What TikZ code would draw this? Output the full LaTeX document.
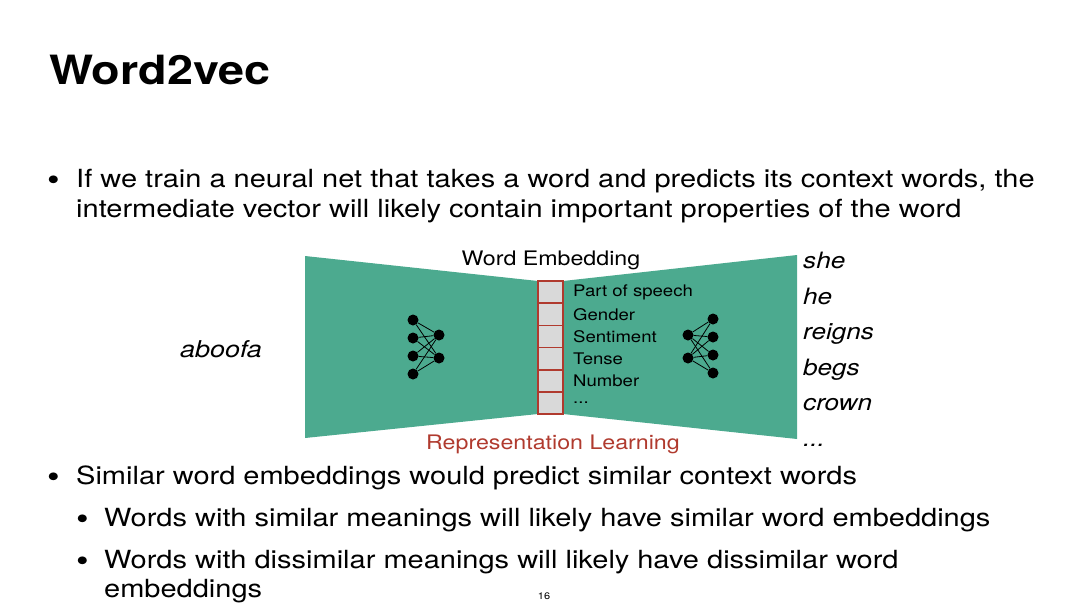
\documentclass[tikz,border=0pt]{standalone}
\usepackage{fontspec}
\setmainfont[FakeStretch=1.16]{TeX Gyre Heros}
\usetikzlibrary{positioning}
\definecolor{Teal}{HTML}{4CAA8F}
\definecolor{Brick}{HTML}{B03A2E}
\definecolor{Cell}{HTML}{D9D9D9}

\begin{document}
\begin{tikzpicture}[x=1pt,y=-1pt,
    body/.style={anchor=base west,inner sep=0pt,font=\fontsize{25}{30}\selectfont},
    dot/.style={anchor=base west,inner sep=0pt,font=\fontsize{31}{30}\selectfont},
    word/.style={anchor=base west,inner sep=0pt,font=\fontsize{22.5}{28}\selectfont\itshape},
    cell/.style={draw=Brick,fill=Cell,line width=1.7pt,minimum width=25pt,
      minimum height=22.2pt,inner sep=0pt,outer sep=0pt},
    feat/.style={font=\fontsize{16}{20}\selectfont,inner sep=0pt,anchor=west},
    unit/.style={circle,fill=black,minimum size=11pt,inner sep=0pt},
    wire/.style={line width=0.8pt}
]
\useasboundingbox (0,0) rectangle (1086,608);
% title and text
\node[anchor=base west,inner sep=0pt,font=\fontsize{40.3}{48}\selectfont\bfseries] (title) at (49,84) {Word2vec};
\node[dot] (b1) at (47,190) {•};
\node[body] (t1) at (76,187) {If we train a neural net that takes a word and predicts its context words, the};
\node[body] (t2) at (76,217) {intermediate vector will likely contain important properties of the word};
\node[dot] (b2) at (47,487) {•};
\node[body] (t3) at (76,484) {Similar word embeddings would predict similar context words};
\node[dot] (b3) at (76,529) {•};
\node[body] (t4) at (104,526) {Words with similar meanings will likely have similar word embeddings};
\node[dot] (b4) at (76,571) {•};
\node[body] (t5) at (104,568) {Words with dissimilar meanings will likely have dissimilar word};
\node[body] (t6) at (104,597) {embeddings};
\node[anchor=base,inner sep=0pt,font=\fontsize{9.5}{12}\selectfont] (page) at (544,599) {16};

% encoder / decoder
\fill[Teal] (305,256) -- (538,281) -- (538,414) -- (305,438) -- cycle;
\fill[Teal] (563,281) -- (797,255) -- (797,439) -- (563,414) -- cycle;

% embedding vector
\node[cell] (c1) at (550.5,292.1) {};
\node[cell,below=0pt of c1] (c2) {};
\node[cell,below=0pt of c2] (c3) {};
\node[cell,below=0pt of c3] (c4) {};
\node[cell,below=0pt of c4] (c5) {};
\node[cell,below=0pt of c5] (c6) {};
\node[feat,right=10pt of c1] (f1) {Part of speech};
\node[feat,right=10pt of c2] (f2) {Gender};
\node[feat,right=10pt of c3] (f3) {Sentiment};
\node[feat,right=10pt of c4] (f4) {Tense};
\node[feat,right=10pt of c5] (f5) {Number};
\node[feat,right=10pt of c6] (f6) {...};
\node[anchor=base,inner sep=0pt,font=\fontsize{20}{24}\selectfont] (embed) at (551,265) {Word Embedding};
\node[anchor=base,inner sep=0pt,text=Brick,font=\fontsize{20}{24}\selectfont] (replearn) at (553,449) {Representation Learning};

% small nets
\foreach \i/\y in {1/320,2/338,3/356,4/374} {
  \node[unit] (l\i) at (413,\y) {};
  \node[unit] (r\i) at (713,\y-1) {};
}
\foreach \j/\y in {1/335,2/358} {
  \node[unit] (m\j) at (439,\y) {};
  \node[unit] (n\j) at (688,\y) {};
}
\foreach \i in {1,...,4} \foreach \j in {1,2} {
  \draw[wire] (l\i) -- (m\j);
  \draw[wire] (n\j) -- (r\i);
}

% input and context words
\node[word,font=\fontsize{23.2}{28}\selectfont\itshape] (input) at (180,357) {aboofa};
\node[word] (w1) at (803,268) {she};
\node[word] (w2) at (803,304) {he};
\node[word] (w3) at (803,339) {reigns};
\node[word] (w4) at (803,375) {begs};
\node[word] (w5) at (803,410) {crown};
\node[word] (w6) at (803,446) {...};
\end{tikzpicture}
\end{document}
